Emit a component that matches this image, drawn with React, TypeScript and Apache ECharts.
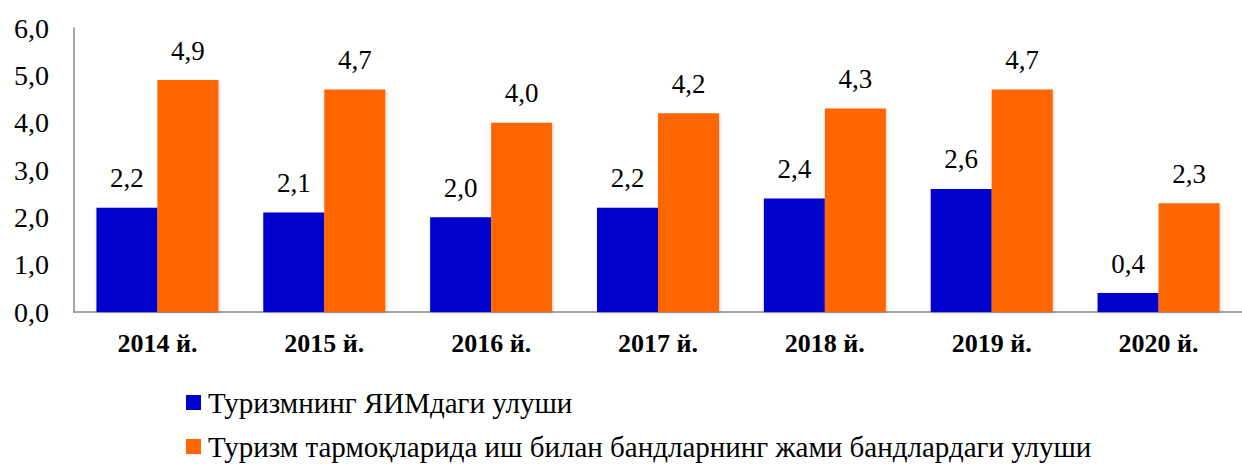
import React, { useEffect, useRef } from "react";
import * as echarts from "echarts";

const categories = ["2014 й.", "2015 й.", "2016 й.", "2017 й.", "2018 й.", "2019 й.", "2020 й."];
const gdpShare = [2.2, 2.1, 2.0, 2.2, 2.4, 2.6, 0.4];
const employmentShare = [4.9, 4.7, 4.0, 4.2, 4.3, 4.7, 2.3];
const seriesNames = [
  "Туризмнинг ЯИМдаги улуши",
  "Туризм тармоқларида иш билан бандларнинг жами бандлардаги улуши",
];

const fmt = (v: number) => Number(v).toFixed(1).replace(".", ",");
const FONT = "Liberation Serif";

export default function App() {
  const ref = useRef<HTMLDivElement>(null);
  useEffect(() => {
    if (!ref.current) return;
    const chart = echarts.init(ref.current, undefined, { renderer: "svg" });
    const labelCfg = {
      show: true,
      position: "top",
      distance: 16,
      formatter: (p: any) => fmt(p.value),
      fontFamily: FONT,
      fontSize: 27,
      color: "#000",
    };
    const legendText = { fontFamily: FONT, fontSize: 29, color: "#000", padding: [0, 0, 0, 2] };
    chart.setOption({
      animation: false,
      textStyle: { fontFamily: FONT, color: "#000" },
      grid: { left: 74, top: 28, right: 0, bottom: 152, containLabel: false },
      legend: [
        {
          left: 186,
          top: 388,
          padding: 0,
          itemWidth: 15,
          itemHeight: 15,
          itemGap: 0,
          icon: "rect",
          textStyle: legendText,
          data: [seriesNames[0]],
        },
        {
          left: 186,
          top: 432,
          padding: 0,
          itemWidth: 15,
          itemHeight: 15,
          itemGap: 0,
          icon: "rect",
          textStyle: legendText,
          data: [seriesNames[1]],
        },
      ],
      xAxis: {
        type: "category",
        data: categories,
        axisTick: { show: false },
        axisLine: { lineStyle: { color: "#888", width: 1.5 } },
        axisLabel: { fontFamily: FONT, fontSize: 26, fontWeight: "bold", color: "#000", margin: 18 },
      },
      yAxis: {
        type: "value",
        min: 0,
        max: 6,
        interval: 1,
        splitLine: { show: false },
        axisTick: { show: false },
        axisLine: { show: true, lineStyle: { color: "#888", width: 1.5 } },
        axisLabel: {
          fontFamily: FONT,
          fontSize: 28,
          color: "#000",
          margin: 25,
          formatter: (v: number) => fmt(v),
        },
      },
      series: [
        {
          name: seriesNames[0],
          type: "bar",
          data: gdpShare,
          barWidth: 61,
          barGap: "0%",
          itemStyle: { color: "#0000CC", shadowColor: "rgba(0,0,0,0.2)", shadowBlur: 3, shadowOffsetX: 1, shadowOffsetY: 1 },
          label: labelCfg,
        },
        {
          name: seriesNames[1],
          type: "bar",
          data: employmentShare,
          barWidth: 61,
          barGap: "0%",
          itemStyle: { color: "#FF6600", shadowColor: "rgba(0,0,0,0.2)", shadowBlur: 3, shadowOffsetX: 1, shadowOffsetY: 1 },
          label: labelCfg,
        },
      ],
    });
    return () => chart.dispose();
  }, []);
  return (
    <div
      ref={ref}
      style={{ position: "absolute", left: 0, top: 0, width: 1242, height: 464, background: "#fff" }}
    />
  );
}
